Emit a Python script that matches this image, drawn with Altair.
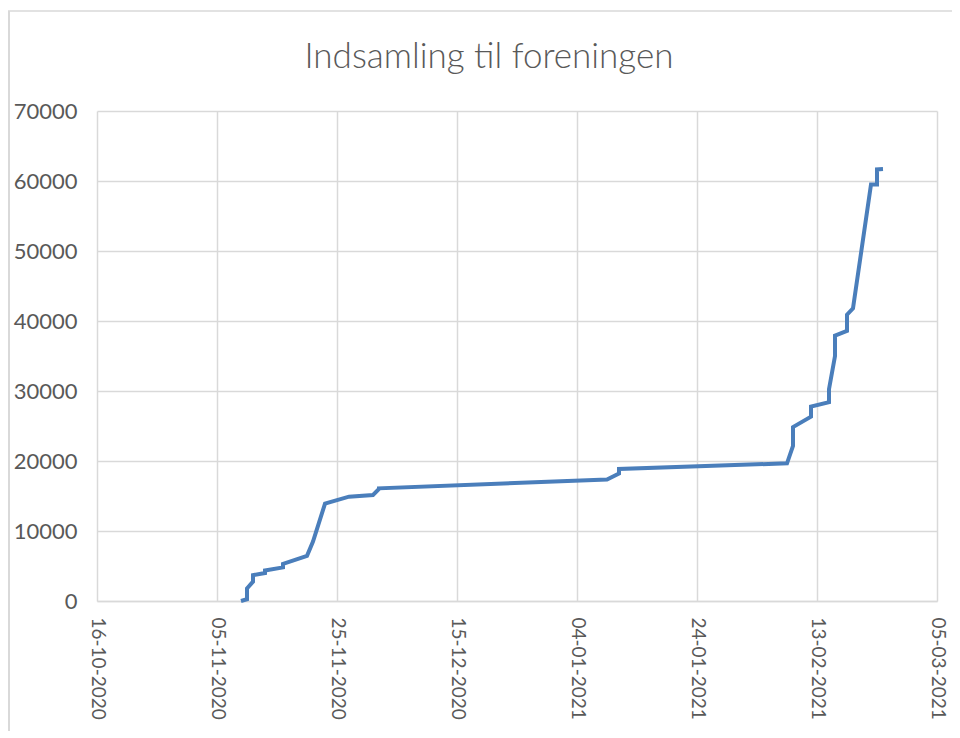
import altair as alt
import pandas as pd

dates = [
    "2020-11-09", "2020-11-10", "2020-11-10", "2020-11-11", "2020-11-11",
    "2020-11-13", "2020-11-13", "2020-11-16", "2020-11-16", "2020-11-20",
    "2020-11-21", "2020-11-23", "2020-11-27", "2020-12-01", "2020-12-02",
    "2020-12-02", "2021-01-09", "2021-01-11", "2021-01-11", "2021-02-08",
    "2021-02-09", "2021-02-09", "2021-02-12", "2021-02-12", "2021-02-15",
    "2021-02-15", "2021-02-16", "2021-02-16", "2021-02-18", "2021-02-18",
    "2021-02-19", "2021-02-22", "2021-02-23", "2021-02-23", "2021-02-24",
]
amounts = [
    0, 250, 1800, 2760, 3700,
    4000, 4350, 4800, 5300, 6450,
    8500, 13900, 14900, 15150, 16000,
    16100, 17350, 18220, 18850, 19670,
    22150, 24850, 26330, 27780, 28400,
    30250, 35000, 37900, 38600, 40900,
    41800, 59500, 59500, 61650, 61700,
]
x_ticks = [(2020, 10, 16), (2020, 11, 5), (2020, 11, 25), (2020, 12, 15),
           (2021, 1, 4), (2021, 1, 24), (2021, 2, 13), (2021, 3, 5)]
y_ticks = [0, 10000, 20000, 30000, 40000, 50000, 60000, 70000]

df = pd.DataFrame({"dato": dates, "beloeb": amounts, "idx": list(range(len(dates)))})

tick_dt = [alt.DateTime(year=y, month=m, date=d, utc=True) for (y, m, d) in x_ticks]

grey_txt = "#595959"
grid_c = "#d9d9d9"

line = alt.Chart(df).mark_line(color="#4A7EBB", strokeWidth=4, strokeJoin="miter").encode(
    x=alt.X("dato:T",
            scale=alt.Scale(type="utc", domain=[tick_dt[0], tick_dt[-1]]),
            axis=alt.Axis(values=tick_dt, format="%d-%m-%Y", labelAngle=90,
                          labelAlign="left", labelBaseline="middle",
                          labelPadding=16, ticks=False, tickSize=0,
                          grid=True, gridColor=grid_c, gridWidth=1.5,
                          domainColor=grid_c, domainWidth=1.5,
                          labelFont="Lato", labelFontSize=19, labelColor=grey_txt,
                          labelOverlap=False, title=None)),
    y=alt.Y("beloeb:Q",
            scale=alt.Scale(domain=[0, 70000], nice=False),
            axis=alt.Axis(values=y_ticks, format="d", ticks=False, tickSize=0,
                          labelPadding=20, domain=False,
                          grid=True, gridColor=grid_c, gridWidth=1.5,
                          labelFont="Lato", labelFontSize=22, labelColor=grey_txt,
                          title=None)),
    order=alt.Order("idx:Q"),
)

# Chart-area frame (Excel style), top and left edges
frame_src = pd.DataFrame({"k": [0]})
frame_left = alt.Chart(frame_src).mark_rule(color=grid_c, strokeWidth=2).encode(
    x=alt.value(-88), y=alt.value(-100), y2=alt.value(640))
frame_top = alt.Chart(frame_src).mark_rule(color=grid_c, strokeWidth=1.5).encode(
    y=alt.value(-100), x=alt.value(-89), x2=alt.value(870))

chart = alt.layer(line, frame_left, frame_top).properties(
    width=840, height=490,
    title=alt.TitleParams("Indsamling til foreningen", font="Lato", fontSize=35,
                          fontWeight=300, color=grey_txt, anchor="middle",
                          frame="group", baseline="alphabetic", offset=-93, dx=-28),
    autosize=alt.AutoSizeParams(type="none"),
    padding={"left": 89, "top": 103, "right": 15, "bottom": 130},
).configure_view(stroke="transparent")

chart.save("out.html", embed_options={"renderer": "svg", "actions": False})
